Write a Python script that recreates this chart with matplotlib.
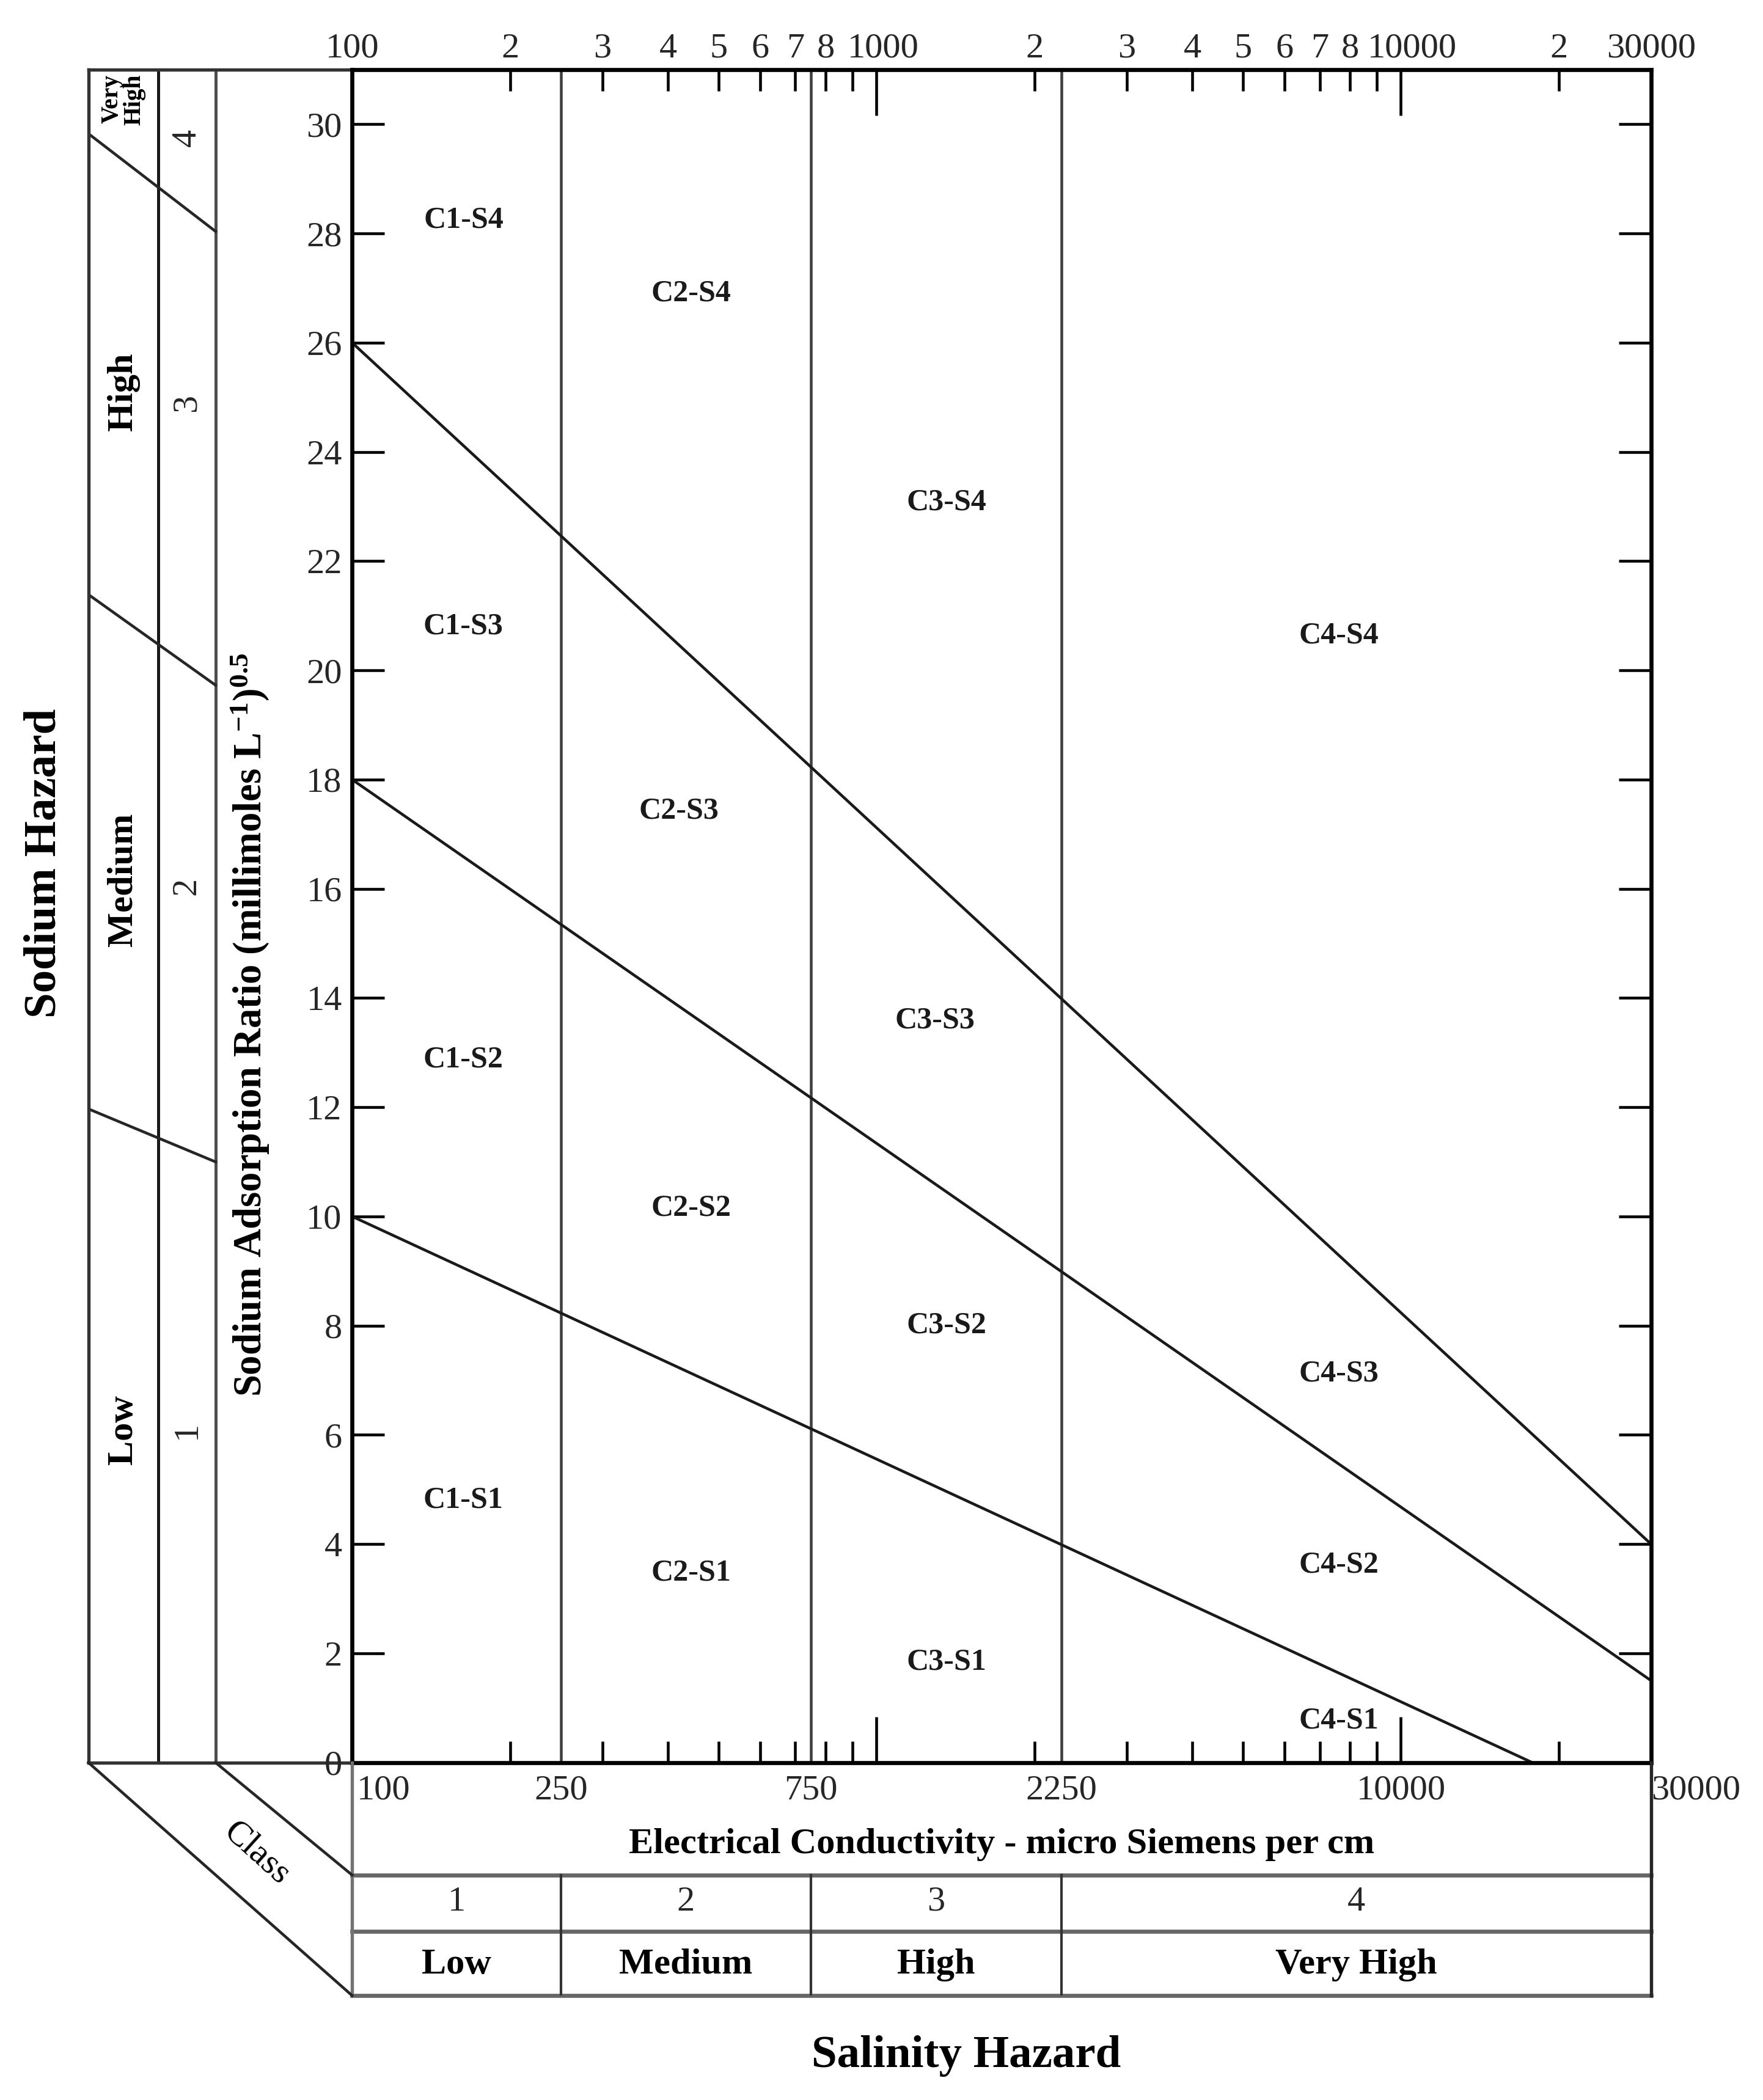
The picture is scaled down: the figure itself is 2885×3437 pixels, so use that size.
import matplotlib.pyplot as plt
from matplotlib.lines import Line2D
from matplotlib.transforms import ScaledTranslation
import numpy as np

plt.rcParams['font.family'] = ['Liberation Serif', 'DejaVu Serif']
plt.rcParams['mathtext.fontset'] = 'custom'
plt.rcParams['mathtext.rm'] = 'Liberation Serif:bold'
plt.rcParams['mathtext.it'] = 'Liberation Serif:bold'
plt.rcParams['mathtext.bf'] = 'Liberation Serif:bold'

# salinity classes (EC, micro S/cm)
ec_bounds = [100, 250, 750, 2250, 30000]
class_nums = ['1', '2', '3', '4']
class_names = ['Low', 'Medium', 'High', 'Very High']
ec_label_vals = [100, 250, 750, 2250, 10000, 30000]
ec_labels = ['100', '250', '750', '2250', '10000', '30000']

# top axis ticks
top_major = [100, 1000, 10000, 30000]
top_major_lab = ['100', '1000', '10000', '30000']
top_minor = [200, 300, 400, 500, 600, 700, 800, 900,
             2000, 3000, 4000, 5000, 6000, 7000, 8000, 9000, 20000]
top_minor_lab = ['2', '3', '4', '5', '6', '7', '8', '',
                 '2', '3', '4', '5', '6', '7', '8', '', '2']

# sodium hazard boundary lines (end points)
line_ec = [[100, 30000], [100, 30000], [100, 17800]]
line_sar = [[26, 4], [18, 1.5], [10, 0]]

# zone labels
zones = ['C1-S4', 'C2-S4', 'C3-S4', 'C4-S4',
         'C1-S3', 'C2-S3', 'C3-S3', 'C4-S3',
         'C1-S2', 'C2-S2', 'C3-S2', 'C4-S2',
         'C1-S1', 'C2-S1', 'C3-S1', 'C4-S1']
zone_ec = [163, 443, 1361, 7620,
           163, 420, 1291, 7620,
           163, 443, 1361, 7620,
           163, 443, 1361, 7620]
zone_sar = [28.24, 26.9, 23.07, 20.63,
            20.8, 17.42, 13.58, 7.12,
            12.87, 10.15, 8.0, 3.62,
            4.8, 3.47, 1.84, 0.76]

# left panel: sodium classes
panel_sar_outer = [29.83, 21.39, 11.97]
panel_sar_inner = [28.04, 19.73, 11.0]
sodium_names = ['Very\nHigh', 'High', 'Medium', 'Low']
sodium_name_sar = [30.45, 25.1, 16.17, 6.09]
sodium_nums = ['4', '3', '2', '1']
sodium_num_sar = [29.75, 24.9, 16.05, 6.09]

# layout (figure fractions)
X_OUT, X_MID, X_IN = 0.0501, 0.0896, 0.1222
AX_L, AX_R = 0.1997, 0.9362
AX_T, AX_B = 0.9668, 0.1607
TAB_B = 0.0497
ROW1 = 0.1071

fig = plt.figure(figsize=(2886 / 300, 3437 / 300), dpi=300)

# left panel (sodium hazard classes), drawn first and transparent
axl = fig.add_axes([X_OUT, AX_B, AX_L - X_OUT, AX_T - AX_B])
axl.set_facecolor('none')
axl.set_xlim(0, 1)
axl.set_ylim(0, 31)
axl.set_xticks([])
axl.set_yticks([])
axl.spines['right'].set_visible(False)
for k in ['left', 'top', 'bottom']:
    axl.spines[k].set_linewidth(1.3)
    axl.spines[k].set_color('0.2')
x_mid = (X_MID - X_OUT) / (AX_L - X_OUT)
x_in = (X_IN - X_OUT) / (AX_L - X_OUT)
axl.axvline(x_mid, color='0.1', lw=1.2)
axl.axvline(x_in, color='0.3', lw=1.2)
for y0, y1 in zip(panel_sar_outer, panel_sar_inner):
    axl.plot([0, x_in], [y0, y1], color='0.15', lw=1.1)
for i, (name, y) in enumerate(zip(sodium_names, sodium_name_sar)):
    axl.text(x_mid / 2, y, name, rotation=90, ha='center', va='center',
             fontweight='bold', fontsize=9.5 if i == 0 else 14.5,
             linespacing=1.0, multialignment='right')
for num, y in zip(sodium_nums, sodium_num_sar):
    axl.text((x_mid + x_in) / 2, y, num, rotation=90, ha='center',
             va='center', fontsize=14, color='0.15')

# main chart
ax = fig.add_axes([AX_L, AX_B, AX_R - AX_L, AX_T - AX_B])
ax.set_facecolor('none')
ax.set_xscale('log')
ax.set_xlim(100, 30000)
ax.set_ylim(0, 31)
for s in ax.spines.values():
    s.set_linewidth(1.6)
    s.set_color('black')

for ec in ec_bounds[1:-1]:
    ax.axvline(ec, color='0.25', lw=1.1)
for xs, ys in zip(line_ec, line_sar):
    ax.plot(xs, ys, color='0.1', lw=1.1)
for name, x, y in zip(zones, zone_ec, zone_sar):
    ax.text(x, y, name, ha='center', va='center', fontsize=12,
            fontweight='bold', color='0.1')

ax.set_yticks(np.arange(0, 31, 2))
ax.tick_params(axis='y', direction='in', left=True, right=True, length=12.7,
               width=1.1, labelsize=14, pad=4, labelcolor='0.15')
ax.set_xticks(top_major, labels=top_major_lab)
ax.set_xticks(top_minor, labels=top_minor_lab, minor=True)
ax.tick_params(axis='x', which='major', direction='in', top=True, bottom=True,
               labeltop=True, labelbottom=False, length=18, width=1.1,
               labelsize=14, pad=2, labelcolor='0.15')
ax.tick_params(axis='x', which='minor', direction='in', top=True, bottom=True,
               labeltop=True, labelbottom=False, length=8.5, width=1.1,
               labelsize=14, pad=2, labelcolor='0.15')
# nudge "1000" and "10000" right, as in the original
for t, dx in zip(ax.xaxis.get_major_ticks(), [0, 0.035, 0.06, 0]):
    t.label2.set_transform(t.label2.get_transform()
                           + ScaledTranslation(dx, 0, fig.dpi_scale_trans))

# table below chart (salinity classes)
axt = fig.add_axes([AX_L, TAB_B, AX_R - AX_L, AX_B - TAB_B])
axt.set_xscale('log')
axt.set_xlim(100, 30000)
axt.set_ylim(0, 1)
axt.axis('off')
r1, r2 = 0.517, 0.276
for y in [0, r2, r1]:
    axt.plot([100, 30000], [y, y], color='0.4', lw=1.6, clip_on=False)
for ec in ec_bounds[1:-1]:
    axt.plot([ec, ec], [0, r1], color='0.2', lw=1.0)
axt.plot([100, 100], [0, 1], color='0.45', lw=1.3, clip_on=False)
axt.plot([30000, 30000], [0, 1], color='0.15', lw=1.3, clip_on=False)
for v, lab in zip(ec_label_vals, ec_labels):
    ha = 'left' if v in (100, 30000) else 'center'
    axt.text(v * (1.02 if v == 100 else 1.0), 0.879, lab, ha=ha,
             va='center', fontsize=14, color='0.15')
axt.text(np.sqrt(100 * 30000), 0.649,
         'Electrical Conductivity - micro Siemens per cm',
         ha='center', va='center', fontsize=14.5, fontweight='bold')
for i in range(4):
    xc = np.sqrt(ec_bounds[i] * ec_bounds[i + 1])
    axt.text(xc, 0.402, class_nums[i], ha='center', va='center',
             fontsize=14, color='0.15')
    axt.text(xc, 0.132, class_names[i], ha='center', va='center',
             fontsize=14.5, fontweight='bold')

# perspective lines at the lower left corner
fig.add_artist(Line2D([X_OUT, AX_L], [AX_B, TAB_B], color='0.15', lw=1.1))
fig.add_artist(Line2D([X_IN, AX_L], [AX_B, ROW1], color='0.15', lw=1.1))
fig.text(0.1458, 0.1173, 'Class', rotation=-42, ha='center', va='center',
         fontsize=14, rotation_mode='anchor')

# axis titles
fig.text(0.142, 0.512,
         r'Sodium Adsorption Ratio (millimoles L$^{-1}$)$^{0.5}$',
         rotation=90, ha='center', va='center', fontsize=15.5,
         fontweight='bold')
fig.text(0.025, 0.589, 'Sodium Hazard', rotation=90, ha='center',
         va='center', fontsize=18, fontweight='bold')
fig.text(0.548, 0.021, 'Salinity Hazard', ha='center', va='center',
         fontsize=18, fontweight='bold')

fig.savefig('out.png', dpi=300, facecolor='white')
